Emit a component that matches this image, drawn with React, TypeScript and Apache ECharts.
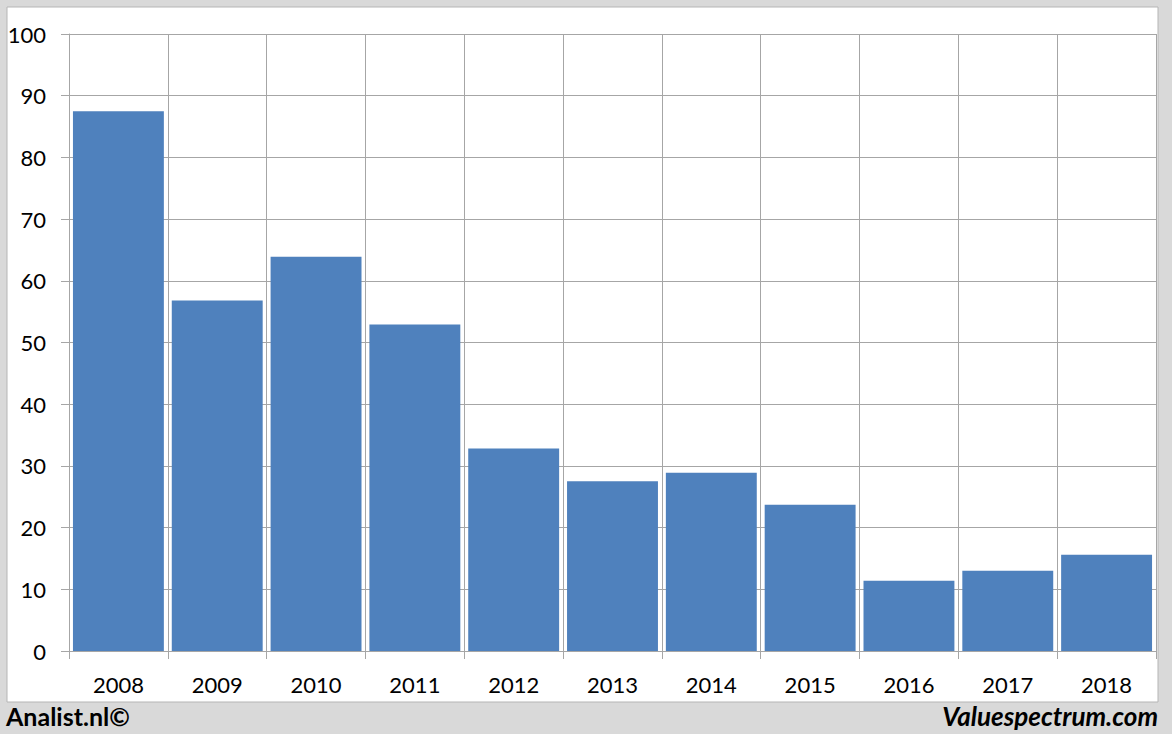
import React, { useEffect, useRef } from "react";
import * as echarts from "echarts";

const years = ["2008", "2009", "2010", "2011", "2012", "2013", "2014", "2015", "2016", "2017", "2018"];
const values = [87.5, 56.8, 63.9, 52.9, 32.8, 27.5, 28.9, 23.7, 11.4, 13.0, 15.6];
const yTicks = { min: 0, max: 100, interval: 10 };

export default function App() {
  const ref = useRef<HTMLDivElement>(null);
  useEffect(() => {
    if (!ref.current) return;
    const chart = echarts.init(ref.current, null, { renderer: "svg" });
    const gridColor = "#a6a6a6";
    chart.setOption({
      animation: false,
      backgroundColor: "#d9d9d9",
      textStyle: { fontFamily: "Lato" },
      graphic: [
        {
          type: "rect",
          z: -10,
          shape: { x: 7, y: 7, width: 1151, height: 695 },
          style: { fill: "#ffffff", stroke: "#b5b5b5", lineWidth: 1 },
        },
        {
          type: "text",
          left: 6,
          top: 703,
          style: { text: "Analist.nl©", fontFamily: "Lato", fontWeight: "bold", fontSize: 25, fill: "#000" },
        },
        {
          type: "text",
          right: 14,
          top: 703,
          style: { text: "Valuespectrum.com", fontFamily: "Lato", fontWeight: "bold", fontStyle: "italic", fontSize: 26, fill: "#000" },
        },
      ],
      grid: { left: 69, right: 16, top: 34, bottom: 83 },
      xAxis: {
        type: "category",
        data: years,
        boundaryGap: true,
        axisLine: { show: true, lineStyle: { color: gridColor, width: 1 } },
        axisTick: { show: true, length: 8, lineStyle: { color: gridColor } },
        axisLabel: { color: "#000", fontSize: 22, fontFamily: "Lato", margin: 22 },
        splitLine: { show: true, lineStyle: { color: gridColor, width: 1 } },
      },
      yAxis: {
        type: "value",
        min: yTicks.min,
        max: yTicks.max,
        interval: yTicks.interval,
        axisLine: { show: true, lineStyle: { color: gridColor, width: 1 } },
        axisTick: { show: true, length: 8, lineStyle: { color: gridColor } },
        axisLabel: { color: "#000", fontSize: 22, fontFamily: "Lato", margin: 23 },
        splitLine: { show: true, lineStyle: { color: gridColor, width: 1 } },
      },
      series: [
        {
          type: "bar",
          data: values,
          barCategoryGap: "8%",
          itemStyle: { color: "#4f81bd" },
        },
      ],
    });
    return () => chart.dispose();
  }, []);
  return <div ref={ref} style={{ position: "fixed", left: 0, top: 0, width: 1172, height: 734 }} />;
}
